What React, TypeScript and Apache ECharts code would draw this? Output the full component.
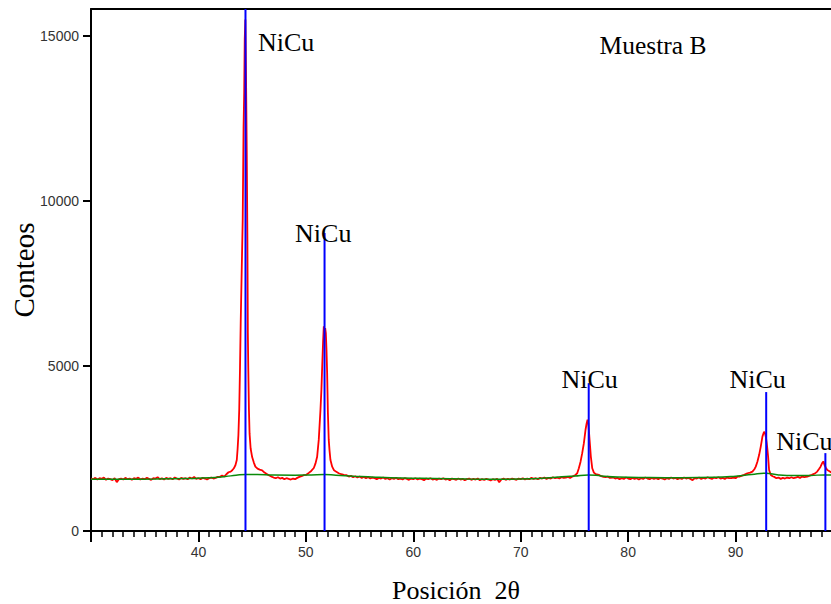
import React, { useEffect, useRef } from "react";
import * as echarts from "echarts";

// ---- axis ranges / ticks ----
const xMin = 30;
const xMax = 100;
const xInterval = 10;
const yMin = 0;
const yMax = 15818;
const yTickValues = [0, 5000, 10000, 15000];

const bgSegment1: [number, number][] = [
  [30.0, 1590], [30.2, 1570], [30.4, 1610], [30.6, 1560], [30.8, 1600], [31.0, 1580], [31.2, 1620], [31.4, 1550],
  [31.6, 1590], [31.8, 1570], [32.0, 1540], [32.2, 1600], [32.4, 1480], [32.6, 1570], [32.8, 1590], [33.0, 1560],
  [33.2, 1610], [33.4, 1570], [33.6, 1590], [33.8, 1550], [34.0, 1600], [34.2, 1580], [34.4, 1620], [34.6, 1560],
  [34.8, 1590], [35.0, 1570], [35.2, 1610], [35.4, 1580], [35.6, 1550], [35.8, 1600], [36.0, 1590], [36.2, 1630],
  [36.4, 1570], [36.6, 1600], [36.8, 1560], [37.0, 1610], [37.2, 1580], [37.4, 1600], [37.6, 1570], [37.8, 1620],
  [38.0, 1590], [38.2, 1560], [38.4, 1610], [38.6, 1580], [38.8, 1600], [39.0, 1570], [39.2, 1620], [39.4, 1590],
  [39.6, 1640], [39.8, 1580], [40.0, 1600], [40.2, 1570], [40.4, 1610], [40.6, 1590], [40.8, 1560], [41.0, 1600],
  [41.2, 1620], [41.4, 1590], [41.6, 1610], [41.8, 1640], [42.0, 1640], [42.2, 1680], [42.4, 1650], [42.6, 1720],
];
const peak1Segment: [number, number][] = [
  [42.8, 1780], [43.0, 1800], [43.15, 1840], [43.3, 1900], [43.45, 2000], [43.57, 2150], [43.65, 2500], [43.72, 2900],
  [43.8, 3700], [43.87, 4950], [43.94, 6400], [44.03, 7900], [44.12, 9400], [44.2, 12200], [44.26, 13300], [44.31, 14900],
  [44.37, 15500], [44.43, 13800], [44.5, 11400], [44.56, 8800], [44.6, 6000], [44.64, 4950], [44.7, 3700], [44.76, 2950],
  [44.86, 2500], [45.0, 2240], [45.15, 2080], [45.3, 1950], [45.5, 1890], [45.7, 1860], [45.93, 1840], [46.15, 1770],
  [46.4, 1720], [46.6, 1680], [46.86, 1640],
];
const bgSegment2: [number, number][] = [
  [47.0, 1620], [47.2, 1600], [47.4, 1630], [47.6, 1590], [47.8, 1610], [48.0, 1570], [48.2, 1600], [48.4, 1580],
  [48.6, 1560], [48.8, 1590], [49.0, 1570], [49.2, 1610],
];
const peak2Segment: [number, number][] = [
  [49.4, 1640], [49.6, 1660], [49.8, 1690], [50.0, 1700], [50.27, 1760], [50.5, 1820], [50.74, 1910], [50.9, 2050],
  [51.05, 2250], [51.2, 2760], [51.36, 3670], [51.45, 4300], [51.52, 4980], [51.6, 5700], [51.67, 6200], [51.74, 6100],
  [51.8, 6150], [51.86, 6000], [51.92, 5500], [51.98, 4800], [52.05, 3600], [52.13, 2760], [52.2, 2450], [52.29, 2150],
  [52.45, 1950], [52.6, 1850], [52.8, 1800], [53.06, 1750], [53.3, 1720], [53.53, 1700],
];
const bgSegment3: [number, number][] = [
  [53.8, 1690], [54.0, 1650], [54.2, 1670], [54.4, 1630], [54.6, 1660], [54.8, 1620], [55.0, 1650], [55.2, 1610],
  [55.4, 1640], [55.6, 1600], [55.8, 1630], [56.0, 1590], [56.2, 1620], [56.4, 1600], [56.6, 1570], [56.8, 1610],
  [57.0, 1590], [57.2, 1620], [57.4, 1580], [57.6, 1600], [57.8, 1560], [58.0, 1600], [58.2, 1580], [58.4, 1610],
  [58.6, 1570], [58.8, 1590], [59.0, 1560], [59.2, 1600], [59.4, 1580], [59.6, 1550], [59.8, 1590], [60.0, 1570],
  [60.2, 1600], [60.4, 1560], [60.6, 1590], [60.8, 1570], [61.0, 1540], [61.2, 1590], [61.4, 1570], [61.6, 1600],
  [61.8, 1560], [62.0, 1580], [62.2, 1550], [62.4, 1590], [62.6, 1570], [62.8, 1600], [63.0, 1560], [63.2, 1580],
  [63.4, 1540], [63.6, 1590], [63.8, 1570], [64.0, 1550], [64.2, 1590], [64.4, 1560], [64.6, 1580], [64.8, 1540],
  [65.0, 1570], [65.2, 1590], [65.4, 1550], [65.6, 1580], [65.8, 1560], [66.0, 1590], [66.2, 1540], [66.4, 1570],
  [66.6, 1550], [66.8, 1580], [67.0, 1560], [67.2, 1530], [67.4, 1570], [67.6, 1550], [67.8, 1580], [68.0, 1480],
  [68.2, 1560], [68.4, 1590], [68.6, 1550], [68.8, 1580], [69.0, 1560], [69.2, 1590], [69.4, 1570], [69.6, 1550],
  [69.8, 1590], [70.0, 1570], [70.2, 1600], [70.4, 1560], [70.6, 1590], [70.8, 1570], [71.0, 1610], [71.2, 1580],
  [71.4, 1600], [71.6, 1570], [71.8, 1610], [72.0, 1590], [72.2, 1620], [72.4, 1580], [72.6, 1610], [72.8, 1590],
  [73.0, 1630], [73.2, 1600], [73.4, 1620], [73.6, 1590], [73.8, 1630], [74.0, 1610],
];
const peak3Segment: [number, number][] = [
  [74.2, 1620], [74.4, 1640], [74.6, 1610], [74.8, 1650], [74.95, 1670], [75.1, 1700], [75.26, 1750], [75.41, 1900],
  [75.57, 2100], [75.72, 2350], [75.88, 2660], [76.03, 3060], [76.13, 3250], [76.22, 3370], [76.3, 3250], [76.41, 2760],
  [76.53, 2250], [76.66, 1900], [76.81, 1770], [77.0, 1720], [77.27, 1700], [77.5, 1660], [77.7, 1640], [77.9, 1630],
  [78.1, 1650], [78.3, 1610],
];
const bgSegment4: [number, number][] = [
  [78.6, 1620], [78.8, 1590], [79.0, 1610], [79.2, 1570], [79.4, 1600], [79.6, 1580], [79.8, 1620], [80.0, 1590],
  [80.2, 1570], [80.4, 1610], [80.6, 1580], [80.8, 1600], [81.0, 1560], [81.2, 1600], [81.4, 1580], [81.6, 1620],
  [81.8, 1590], [82.0, 1570], [82.2, 1610], [82.4, 1580], [82.6, 1600], [82.8, 1570], [83.0, 1610], [83.2, 1590],
  [83.4, 1560], [83.6, 1600], [83.8, 1580], [84.0, 1620], [84.2, 1590], [84.4, 1610], [84.6, 1570], [84.8, 1600],
  [85.0, 1580], [85.2, 1620], [85.4, 1590], [85.6, 1610], [85.8, 1580], [86.0, 1540], [86.2, 1600], [86.4, 1590],
  [86.6, 1620], [86.8, 1580], [87.0, 1610], [87.2, 1590], [87.4, 1630], [87.6, 1600], [87.8, 1580], [88.0, 1620],
  [88.2, 1600], [88.4, 1630], [88.6, 1590], [88.8, 1610], [89.0, 1580], [89.2, 1620], [89.4, 1600],
];
const peak4Segment: [number, number][] = [
  [89.6, 1600], [89.8, 1620], [90.0, 1600], [90.16, 1645], [90.4, 1650], [90.6, 1680], [90.8, 1700], [91.1, 1750],
  [91.35, 1770], [91.57, 1800], [91.75, 1870], [91.88, 1950], [92.03, 2100], [92.19, 2300], [92.34, 2550], [92.5, 2860],
  [92.65, 3010], [92.75, 2950], [92.82, 2850], [92.9, 2660], [92.97, 2450], [93.03, 2250], [93.12, 1850], [93.28, 1700],
  [93.45, 1660], [93.6, 1640],
];
const bgSegment5: [number, number][] = [
  [93.8, 1600], [94.0, 1620], [94.2, 1580], [94.4, 1610], [94.6, 1590], [94.8, 1620], [95.0, 1600], [95.2, 1630],
  [95.4, 1600], [95.6, 1620], [95.8, 1640], [96.0, 1610], [96.2, 1650], [96.4, 1630], [96.67, 1650],
];
const peak5Segment: [number, number][] = [
  [96.9, 1680], [97.1, 1700], [97.29, 1730], [97.45, 1760], [97.6, 1800], [97.75, 1870], [97.91, 1950], [98.05, 2050],
  [98.17, 2110], [98.28, 2000], [98.4, 1920], [98.54, 1850], [98.7, 1820], [98.79, 1800], [98.95, 1770], [99.1, 1760],
];

// ---- fitted background (green) ----
const backgroundFit: [number, number][] = [
  [30, 1565], [33, 1568], [36, 1575], [39, 1590], [41, 1610], [42.5, 1650], [43.5, 1690], [44.4, 1715],
  [45.5, 1710], [47, 1695], [49, 1690], [50.5, 1700], [51.7, 1710], [52.8, 1690], [54.5, 1660], [56.5, 1630],
  [59, 1605], [62, 1590], [65, 1575], [68, 1570], [71, 1585], [73, 1620], [75, 1665], [76.3, 1700],
  [77.5, 1670], [79, 1635], [82, 1620], [85, 1615], [88, 1625], [90, 1660], [91.5, 1710], [92.8, 1750],
  [94, 1700], [95.5, 1680], [97, 1685], [98.3, 1700], [99.5, 1690],
];

// ---- reference pattern sticks (NiCu) ----
const refAngles = [44.38, 51.74, 76.33, 92.85, 98.36];
const refCounts = [16000, 9030, 4480, 4210, 2360];
const refLabels = ["NiCu", "NiCu", "NiCu", "NiCu", "NiCu"];
const labelAngles = [48.16, 51.62, 76.41, 92.05, 96.4];
const labelCounts = [14818, 9000, 4606, 4606, 2718];

const sampleName = "Muestra B";
const xTitle = "Posición  2θ";
const yTitle = "Conteos";

const patternData: [number, number][] = [
  ...bgSegment1, ...peak1Segment, ...bgSegment2, ...peak2Segment, ...bgSegment3,
  ...peak3Segment, ...bgSegment4, ...peak4Segment, ...bgSegment5, ...peak5Segment,
];

const stickData = refAngles.map((a, i) => [a, refCounts[i], labelAngles[i], labelCounts[i], i]);

const SERIF = "Liberation Serif";
const SANS = "Liberation Sans";

export default function App() {
  const ref = useRef<HTMLDivElement>(null);
  useEffect(() => {
    if (!ref.current) return;
    const chart = echarts.init(ref.current, undefined, { renderer: "svg" });
    chart.setOption({
      animation: false,
      backgroundColor: "#ffffff",
      grid: { left: 91, right: -12, top: 9, bottom: 73, containLabel: false, outerBoundsMode: "none" },
      xAxis: [
        {
          type: "value",
          min: xMin,
          max: xMax,
          interval: xInterval,
          axisLine: { show: true, lineStyle: { color: "#000", width: 2 } },
          axisTick: { show: true, length: 11, lineStyle: { color: "#000", width: 2 } },
          minorTick: { show: true, splitNumber: 10, length: 6, lineStyle: { color: "#000", width: 1.5 } },
          axisLabel: {
            showMinLabel: false,
            showMaxLabel: false,
            fontSize: 14,
            color: "#333",
            margin: 14,
            fontFamily: SANS,
            formatter: (v: number) => String(v),
          },
          splitLine: { show: false },
        },
        {
          type: "value",
          position: "top",
          min: xMin,
          max: xMax,
          interval: xInterval,
          axisLine: { show: true, lineStyle: { color: "#000", width: 2 } },
          axisTick: { show: false },
          axisLabel: { show: false },
          splitLine: { show: false },
        },
      ],
      yAxis: {
        type: "value",
        min: yMin,
        max: yMax,
        axisLine: { show: true, lineStyle: { color: "#000", width: 2 } },
        axisTick: { show: true, length: 8, customValues: yTickValues, lineStyle: { color: "#000", width: 2 } },
        axisLabel: {
          customValues: yTickValues,
          fontSize: 14,
          color: "#333",
          margin: 12,
          fontFamily: SANS,
          formatter: (v: number) => String(v),
        },
        splitLine: { show: false },
      },
      graphic: [
        {
          type: "text",
          x: 653,
          y: 45,
          style: {
            text: sampleName,
            fontFamily: SERIF,
            fontSize: 25.5,
            fill: "#000",
            align: "center",
            verticalAlign: "middle",
          },
        },
        {
          type: "text",
          x: 456,
          y: 590,
          style: {
            text: xTitle,
            fontFamily: SERIF,
            fontSize: 26,
            fill: "#000",
            align: "center",
            verticalAlign: "middle",
          },
        },
        {
          type: "text",
          x: 24,
          y: 270,
          rotation: Math.PI / 2,
          style: {
            text: yTitle,
            fontFamily: SERIF,
            fontSize: 29,
            fill: "#000",
            align: "center",
            verticalAlign: "middle",
          },
        },
      ],
      series: [
        {
          type: "line",
          data: patternData,
          showSymbol: false,
          xAxisIndex: 0,
          lineStyle: { color: "#ff0000", width: 1.8 },
          z: 2,
        },
        {
          type: "line",
          data: backgroundFit,
          showSymbol: false,
          smooth: true,
          xAxisIndex: 0,
          lineStyle: { color: "#0a8a0a", width: 1.5 },
          z: 3,
        },
        {
          type: "custom",
          data: stickData,
          xAxisIndex: 0,
          clip: false,
          z: 4,
          renderItem: (params: any, api: any) => {
            const x = api.value(0);
            const h = Math.min(api.value(1), yMax);
            const base = api.coord([x, 0]);
            const top = api.coord([x, h]);
            const lp = api.coord([api.value(2), api.value(3)]);
            const idx = api.value(4);
            return {
              type: "group",
              children: [
                {
                  type: "line",
                  shape: { x1: base[0], y1: base[1], x2: top[0], y2: top[1] },
                  style: { stroke: "#0000ff", lineWidth: 2 },
                },
                {
                  type: "text",
                  x: lp[0],
                  y: lp[1],
                  style: {
                    text: refLabels[idx],
                    fontFamily: SERIF,
                    fontSize: 26,
                    fill: "#000",
                    align: "center",
                    verticalAlign: "middle",
                  },
                },
              ],
            };
          },
        },
      ],
    });
    return () => chart.dispose();
  }, []);
  return (
    <div style={{ position: "fixed", left: 0, top: 0, width: 831, height: 604, overflow: "hidden", background: "#fff" }}>
      <div ref={ref} style={{ width: 831, height: 604 }} />
    </div>
  );
}
